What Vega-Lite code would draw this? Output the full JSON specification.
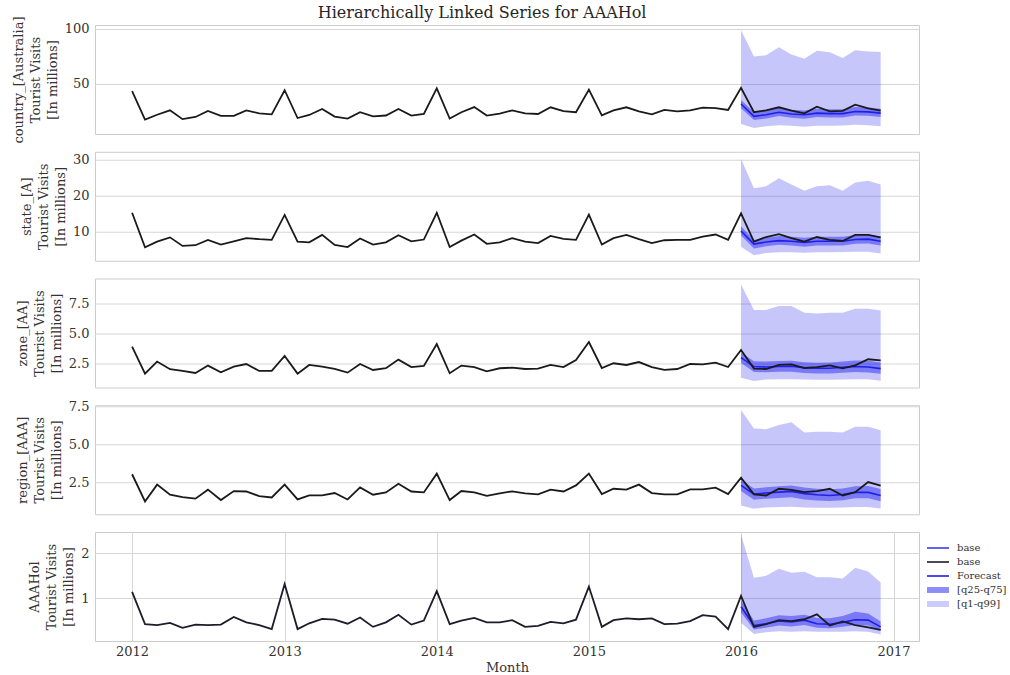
{
  "$schema": "https://vega.github.io/schema/vega-lite/v6.json",
  "padding": {"top": 4, "left": 11, "right": 0, "bottom": 0},
  "bounds": "flush",
  "title": {"text": "Hierarchically Linked Series for AAAHol", "fontSize": 16, "font": "DejaVu Serif", "fontWeight": "normal", "color": "#262626", "anchor": "middle", "offset": -5, "dx": -33},
  "datasets": {
    "actual": [
      {"month": "2012-01-01", "country": 43.4, "state": 15.2, "zone": 3.93, "region": 3.05, "AAAHol": 1.14},
      {"month": "2012-02-01", "country": 17.6, "state": 5.5, "zone": 1.71, "region": 1.27, "AAAHol": 0.42},
      {"month": "2012-03-01", "country": 22.0, "state": 7.1, "zone": 2.70, "region": 2.37, "AAAHol": 0.40},
      {"month": "2012-04-01", "country": 26.0, "state": 8.3, "zone": 2.07, "region": 1.71, "AAAHol": 0.45},
      {"month": "2012-05-01", "country": 18.0, "state": 5.9, "zone": 1.93, "region": 1.55, "AAAHol": 0.34},
      {"month": "2012-06-01", "country": 20.0, "state": 6.1, "zone": 1.76, "region": 1.45, "AAAHol": 0.41},
      {"month": "2012-07-01", "country": 25.5, "state": 7.6, "zone": 2.37, "region": 2.04, "AAAHol": 0.40},
      {"month": "2012-08-01", "country": 21.0, "state": 6.3, "zone": 1.82, "region": 1.36, "AAAHol": 0.41},
      {"month": "2012-09-01", "country": 21.0, "state": 7.2, "zone": 2.29, "region": 1.95, "AAAHol": 0.58},
      {"month": "2012-10-01", "country": 26.0, "state": 8.1, "zone": 2.50, "region": 1.92, "AAAHol": 0.46},
      {"month": "2012-11-01", "country": 23.3, "state": 7.8, "zone": 1.93, "region": 1.62, "AAAHol": 0.40},
      {"month": "2012-12-01", "country": 22.4, "state": 7.6, "zone": 1.93, "region": 1.53, "AAAHol": 0.31},
      {"month": "2013-01-01", "country": 44.3, "state": 14.6, "zone": 3.16, "region": 2.37, "AAAHol": 1.32},
      {"month": "2013-02-01", "country": 19.0, "state": 7.1, "zone": 1.71, "region": 1.40, "AAAHol": 0.31},
      {"month": "2013-03-01", "country": 21.8, "state": 6.9, "zone": 2.42, "region": 1.66, "AAAHol": 0.44},
      {"month": "2013-04-01", "country": 27.3, "state": 9.0, "zone": 2.29, "region": 1.66, "AAAHol": 0.54},
      {"month": "2013-05-01", "country": 20.3, "state": 6.2, "zone": 2.09, "region": 1.82, "AAAHol": 0.52},
      {"month": "2013-06-01", "country": 18.5, "state": 5.6, "zone": 1.79, "region": 1.40, "AAAHol": 0.43},
      {"month": "2013-07-01", "country": 24.3, "state": 8.0, "zone": 2.50, "region": 2.19, "AAAHol": 0.57},
      {"month": "2013-08-01", "country": 20.6, "state": 6.3, "zone": 2.01, "region": 1.71, "AAAHol": 0.36},
      {"month": "2013-09-01", "country": 21.3, "state": 6.9, "zone": 2.15, "region": 1.86, "AAAHol": 0.46},
      {"month": "2013-10-01", "country": 27.3, "state": 8.9, "zone": 2.86, "region": 2.43, "AAAHol": 0.63},
      {"month": "2013-11-01", "country": 21.3, "state": 7.2, "zone": 2.25, "region": 1.92, "AAAHol": 0.41},
      {"month": "2013-12-01", "country": 22.7, "state": 7.7, "zone": 2.34, "region": 1.86, "AAAHol": 0.50},
      {"month": "2014-01-01", "country": 46.0, "state": 15.2, "zone": 4.14, "region": 3.09, "AAAHol": 1.16},
      {"month": "2014-02-01", "country": 18.5, "state": 5.6, "zone": 1.74, "region": 1.36, "AAAHol": 0.42},
      {"month": "2014-03-01", "country": 24.3, "state": 7.4, "zone": 2.37, "region": 1.95, "AAAHol": 0.50},
      {"month": "2014-04-01", "country": 29.0, "state": 9.1, "zone": 2.25, "region": 1.86, "AAAHol": 0.56},
      {"month": "2014-05-01", "country": 21.3, "state": 6.5, "zone": 1.90, "region": 1.64, "AAAHol": 0.46},
      {"month": "2014-06-01", "country": 23.0, "state": 6.9, "zone": 2.15, "region": 1.80, "AAAHol": 0.46},
      {"month": "2014-07-01", "country": 26.0, "state": 8.1, "zone": 2.20, "region": 1.93, "AAAHol": 0.51},
      {"month": "2014-08-01", "country": 23.3, "state": 7.1, "zone": 2.09, "region": 1.80, "AAAHol": 0.36},
      {"month": "2014-09-01", "country": 22.7, "state": 6.7, "zone": 2.12, "region": 1.73, "AAAHol": 0.38},
      {"month": "2014-10-01", "country": 28.8, "state": 8.7, "zone": 2.42, "region": 2.04, "AAAHol": 0.47},
      {"month": "2014-11-01", "country": 25.2, "state": 7.9, "zone": 2.25, "region": 1.92, "AAAHol": 0.44},
      {"month": "2014-12-01", "country": 24.3, "state": 7.6, "zone": 2.83, "region": 2.32, "AAAHol": 0.52},
      {"month": "2015-01-01", "country": 44.8, "state": 14.7, "zone": 4.30, "region": 3.09, "AAAHol": 1.26},
      {"month": "2015-02-01", "country": 21.5, "state": 6.3, "zone": 2.17, "region": 1.75, "AAAHol": 0.36},
      {"month": "2015-03-01", "country": 26.0, "state": 8.1, "zone": 2.56, "region": 2.10, "AAAHol": 0.51},
      {"month": "2015-04-01", "country": 28.8, "state": 9.0, "zone": 2.42, "region": 2.04, "AAAHol": 0.55},
      {"month": "2015-05-01", "country": 25.0, "state": 7.8, "zone": 2.66, "region": 2.37, "AAAHol": 0.53},
      {"month": "2015-06-01", "country": 22.4, "state": 6.7, "zone": 2.25, "region": 1.82, "AAAHol": 0.55},
      {"month": "2015-07-01", "country": 26.4, "state": 7.5, "zone": 2.01, "region": 1.73, "AAAHol": 0.42},
      {"month": "2015-08-01", "country": 25.0, "state": 7.6, "zone": 2.09, "region": 1.73, "AAAHol": 0.43},
      {"month": "2015-09-01", "country": 26.0, "state": 7.6, "zone": 2.50, "region": 2.06, "AAAHol": 0.49},
      {"month": "2015-10-01", "country": 28.5, "state": 8.5, "zone": 2.47, "region": 2.06, "AAAHol": 0.62},
      {"month": "2015-11-01", "country": 28.0, "state": 9.1, "zone": 2.61, "region": 2.17, "AAAHol": 0.59},
      {"month": "2015-12-01", "country": 26.4, "state": 7.6, "zone": 2.25, "region": 1.75, "AAAHol": 0.31},
      {"month": "2016-01-01", "country": 46.4, "state": 15.0, "zone": 3.65, "region": 2.83, "AAAHol": 1.05},
      {"month": "2016-02-01", "country": 24.3, "state": 7.1, "zone": 2.12, "region": 1.73, "AAAHol": 0.36},
      {"month": "2016-03-01", "country": 26.0, "state": 8.4, "zone": 2.09, "region": 1.66, "AAAHol": 0.42},
      {"month": "2016-04-01", "country": 28.8, "state": 9.2, "zone": 2.42, "region": 2.10, "AAAHol": 0.51},
      {"month": "2016-05-01", "country": 25.7, "state": 8.1, "zone": 2.47, "region": 2.02, "AAAHol": 0.49},
      {"month": "2016-06-01", "country": 23.3, "state": 7.1, "zone": 2.17, "region": 1.88, "AAAHol": 0.53},
      {"month": "2016-07-01", "country": 29.3, "state": 8.4, "zone": 2.25, "region": 1.95, "AAAHol": 0.64},
      {"month": "2016-08-01", "country": 25.0, "state": 7.6, "zone": 2.39, "region": 2.10, "AAAHol": 0.39},
      {"month": "2016-09-01", "country": 25.5, "state": 7.3, "zone": 2.15, "region": 1.66, "AAAHol": 0.48},
      {"month": "2016-10-01", "country": 31.2, "state": 9.0, "zone": 2.39, "region": 1.88, "AAAHol": 0.40},
      {"month": "2016-11-01", "country": 27.9, "state": 9.0, "zone": 2.89, "region": 2.54, "AAAHol": 0.35},
      {"month": "2016-12-01", "country": 25.7, "state": 8.3, "zone": 2.80, "region": 2.30, "AAAHol": 0.29}
    ],
    "fc": [
      {"level": "country", "month": "2016-01-01", "fc": 31.8, "q1": 13.6, "q25": 28.0, "q75": 35.5, "q99": 98.8},
      {"level": "country", "month": "2016-02-01", "fc": 20.6, "q1": 10.0, "q25": 17.2, "q75": 24.5, "q99": 75.0},
      {"level": "country", "month": "2016-03-01", "fc": 22.0, "q1": 11.5, "q25": 18.5, "q75": 25.8, "q99": 76.0},
      {"level": "country", "month": "2016-04-01", "fc": 24.3, "q1": 12.5, "q25": 20.8, "q75": 28.3, "q99": 83.3},
      {"level": "country", "month": "2016-05-01", "fc": 22.7, "q1": 12.0, "q25": 19.2, "q75": 26.6, "q99": 76.7},
      {"level": "country", "month": "2016-06-01", "fc": 22.0, "q1": 11.0, "q25": 18.4, "q75": 25.8, "q99": 73.0},
      {"level": "country", "month": "2016-07-01", "fc": 23.5, "q1": 12.0, "q25": 19.9, "q75": 27.4, "q99": 80.3},
      {"level": "country", "month": "2016-08-01", "fc": 23.0, "q1": 12.0, "q25": 19.5, "q75": 26.9, "q99": 78.8},
      {"level": "country", "month": "2016-09-01", "fc": 23.0, "q1": 12.2, "q25": 19.5, "q75": 27.0, "q99": 73.6},
      {"level": "country", "month": "2016-10-01", "fc": 25.0, "q1": 12.8, "q25": 21.4, "q75": 29.0, "q99": 80.6},
      {"level": "country", "month": "2016-11-01", "fc": 24.6, "q1": 12.5, "q25": 21.0, "q75": 28.6, "q99": 79.4},
      {"level": "country", "month": "2016-12-01", "fc": 23.5, "q1": 11.5, "q25": 19.9, "q75": 27.5, "q99": 79.0},
      {"level": "state", "month": "2016-01-01", "fc": 10.1, "q1": 5.7, "q25": 8.9, "q75": 11.4, "q99": 30.3},
      {"level": "state", "month": "2016-02-01", "fc": 6.4, "q1": 3.3, "q25": 5.2, "q75": 7.6, "q99": 22.1},
      {"level": "state", "month": "2016-03-01", "fc": 7.0, "q1": 3.9, "q25": 5.8, "q75": 8.2, "q99": 22.6},
      {"level": "state", "month": "2016-04-01", "fc": 7.4, "q1": 4.1, "q25": 6.2, "q75": 8.7, "q99": 24.9},
      {"level": "state", "month": "2016-05-01", "fc": 7.2, "q1": 4.1, "q25": 6.0, "q75": 8.5, "q99": 23.1},
      {"level": "state", "month": "2016-06-01", "fc": 6.9, "q1": 4.0, "q25": 5.7, "q75": 8.2, "q99": 21.4},
      {"level": "state", "month": "2016-07-01", "fc": 7.2, "q1": 4.1, "q25": 6.0, "q75": 8.5, "q99": 22.6},
      {"level": "state", "month": "2016-08-01", "fc": 7.2, "q1": 4.1, "q25": 6.0, "q75": 8.5, "q99": 22.9},
      {"level": "state", "month": "2016-09-01", "fc": 7.2, "q1": 4.2, "q25": 6.0, "q75": 8.5, "q99": 21.4},
      {"level": "state", "month": "2016-10-01", "fc": 7.7, "q1": 4.3, "q25": 6.5, "q75": 9.0, "q99": 23.7},
      {"level": "state", "month": "2016-11-01", "fc": 7.8, "q1": 4.3, "q25": 6.6, "q75": 9.1, "q99": 24.2},
      {"level": "state", "month": "2016-12-01", "fc": 7.2, "q1": 3.8, "q25": 6.0, "q75": 8.5, "q99": 23.1},
      {"level": "zone", "month": "2016-01-01", "fc": 3.02, "q1": 1.38, "q25": 2.60, "q75": 3.45, "q99": 9.03},
      {"level": "zone", "month": "2016-02-01", "fc": 2.29, "q1": 1.11, "q25": 1.85, "q75": 2.72, "q99": 6.93},
      {"level": "zone", "month": "2016-03-01", "fc": 2.25, "q1": 1.22, "q25": 1.82, "q75": 2.70, "q99": 6.93},
      {"level": "zone", "month": "2016-04-01", "fc": 2.29, "q1": 1.25, "q25": 1.86, "q75": 2.75, "q99": 7.26},
      {"level": "zone", "month": "2016-05-01", "fc": 2.31, "q1": 1.25, "q25": 1.87, "q75": 2.76, "q99": 7.26},
      {"level": "zone", "month": "2016-06-01", "fc": 2.20, "q1": 1.22, "q25": 1.76, "q75": 2.65, "q99": 6.71},
      {"level": "zone", "month": "2016-07-01", "fc": 2.15, "q1": 1.20, "q25": 1.72, "q75": 2.60, "q99": 6.65},
      {"level": "zone", "month": "2016-08-01", "fc": 2.15, "q1": 1.20, "q25": 1.72, "q75": 2.62, "q99": 6.71},
      {"level": "zone", "month": "2016-09-01", "fc": 2.23, "q1": 1.22, "q25": 1.78, "q75": 2.70, "q99": 6.71},
      {"level": "zone", "month": "2016-10-01", "fc": 2.29, "q1": 1.25, "q25": 1.84, "q75": 2.78, "q99": 7.04},
      {"level": "zone", "month": "2016-11-01", "fc": 2.25, "q1": 1.24, "q25": 1.80, "q75": 2.76, "q99": 7.04},
      {"level": "zone", "month": "2016-12-01", "fc": 2.12, "q1": 1.12, "q25": 1.70, "q75": 2.62, "q99": 6.90},
      {"level": "region", "month": "2016-01-01", "fc": 2.32, "q1": 1.00, "q25": 1.95, "q75": 2.70, "q99": 7.26},
      {"level": "region", "month": "2016-02-01", "fc": 1.75, "q1": 0.79, "q25": 1.38, "q75": 2.12, "q99": 6.05},
      {"level": "region", "month": "2016-03-01", "fc": 1.82, "q1": 0.88, "q25": 1.45, "q75": 2.20, "q99": 6.00},
      {"level": "region", "month": "2016-04-01", "fc": 1.88, "q1": 0.90, "q25": 1.50, "q75": 2.27, "q99": 6.27},
      {"level": "region", "month": "2016-05-01", "fc": 1.93, "q1": 0.92, "q25": 1.55, "q75": 2.32, "q99": 6.45},
      {"level": "region", "month": "2016-06-01", "fc": 1.78, "q1": 0.88, "q25": 1.40, "q75": 2.18, "q99": 5.79},
      {"level": "region", "month": "2016-07-01", "fc": 1.71, "q1": 0.86, "q25": 1.33, "q75": 2.10, "q99": 5.83},
      {"level": "region", "month": "2016-08-01", "fc": 1.66, "q1": 0.86, "q25": 1.30, "q75": 2.06, "q99": 5.83},
      {"level": "region", "month": "2016-09-01", "fc": 1.72, "q1": 0.88, "q25": 1.35, "q75": 2.12, "q99": 5.79},
      {"level": "region", "month": "2016-10-01", "fc": 1.86, "q1": 0.90, "q25": 1.47, "q75": 2.27, "q99": 6.16},
      {"level": "region", "month": "2016-11-01", "fc": 1.86, "q1": 0.90, "q25": 1.47, "q75": 2.28, "q99": 6.16},
      {"level": "region", "month": "2016-12-01", "fc": 1.66, "q1": 0.80, "q25": 1.28, "q75": 2.08, "q99": 5.94},
      {"level": "AAAHol", "month": "2016-01-01", "fc": 0.81, "q1": 0.45, "q25": 0.68, "q75": 0.95, "q99": 2.42},
      {"level": "AAAHol", "month": "2016-02-01", "fc": 0.39, "q1": 0.20, "q25": 0.30, "q75": 0.50, "q99": 1.46},
      {"level": "AAAHol", "month": "2016-03-01", "fc": 0.43, "q1": 0.24, "q25": 0.34, "q75": 0.55, "q99": 1.50},
      {"level": "AAAHol", "month": "2016-04-01", "fc": 0.49, "q1": 0.26, "q25": 0.39, "q75": 0.62, "q99": 1.66},
      {"level": "AAAHol", "month": "2016-05-01", "fc": 0.47, "q1": 0.25, "q25": 0.37, "q75": 0.60, "q99": 1.57},
      {"level": "AAAHol", "month": "2016-06-01", "fc": 0.51, "q1": 0.26, "q25": 0.40, "q75": 0.63, "q99": 1.59},
      {"level": "AAAHol", "month": "2016-07-01", "fc": 0.43, "q1": 0.25, "q25": 0.34, "q75": 0.56, "q99": 1.47},
      {"level": "AAAHol", "month": "2016-08-01", "fc": 0.42, "q1": 0.25, "q25": 0.33, "q75": 0.55, "q99": 1.47},
      {"level": "AAAHol", "month": "2016-09-01", "fc": 0.46, "q1": 0.25, "q25": 0.36, "q75": 0.60, "q99": 1.44},
      {"level": "AAAHol", "month": "2016-10-01", "fc": 0.52, "q1": 0.26, "q25": 0.40, "q75": 0.70, "q99": 1.68},
      {"level": "AAAHol", "month": "2016-11-01", "fc": 0.51, "q1": 0.25, "q25": 0.39, "q75": 0.66, "q99": 1.60},
      {"level": "AAAHol", "month": "2016-12-01", "fc": 0.36, "q1": 0.19, "q25": 0.28, "q75": 0.48, "q99": 1.35}
    ]
  },
  "spacing": 17.75,
  "resolve": {"scale": {"color": "independent"}, "legend": {"color": "independent"}},
  "vconcat": [
    {
      "width": 824, "height": 109,
      "encoding": {"x": {"field": "month", "type": "temporal", "scale": {"type": "utc", "domain": [{"year": 2011, "month": 10, "date": 4, "utc": true}, {"year": 2017, "month": 3, "date": 3, "utc": true}]}, "axis": null}},
      "layer": [
        {"data": {"name": "fc"}, "transform": [{"filter": "datum.level == 'country'"}], "mark": {"type": "area", "color": "#1010f0", "fillOpacity": 0.24},
         "encoding": {"y": {"field": "q1", "type": "quantitative", "scale": {"domain": [4.5, 103.6], "nice": false, "zero": false}, "axis": {"values": [50, 100], "title": ["country_[Australia]", "Tourist Visits", "[In millions]"]}}, "y2": {"field": "q99"}}},
        {"data": {"name": "fc"}, "transform": [{"filter": "datum.level == 'country'"}], "mark": {"type": "area", "color": "#1010f0", "fillOpacity": 0.42},
         "encoding": {"y": {"field": "q25", "type": "quantitative", "scale": {"domain": [4.5, 103.6], "nice": false, "zero": false}, "axis": {"values": [50, 100], "title": ["country_[Australia]", "Tourist Visits", "[In millions]"]}}, "y2": {"field": "q75"}}},
        {"data": {"name": "fc"}, "transform": [{"filter": "datum.level == 'country'"}], "mark": {"type": "line", "color": "#1f1fe6", "strokeWidth": 1.6},
         "encoding": {"y": {"field": "fc", "type": "quantitative", "scale": {"domain": [4.5, 103.6], "nice": false, "zero": false}, "axis": {"values": [50, 100], "title": ["country_[Australia]", "Tourist Visits", "[In millions]"]}}}},
        {"data": {"name": "actual"}, "mark": {"type": "line", "color": "#1a1a1a", "strokeWidth": 1.8},
         "encoding": {"y": {"field": "country", "type": "quantitative", "scale": {"domain": [4.5, 103.6], "nice": false, "zero": false}, "axis": {"values": [50, 100], "title": ["country_[Australia]", "Tourist Visits", "[In millions]"]}}}}
      ]
    },
    {
      "width": 824, "height": 109,
      "encoding": {"x": {"field": "month", "type": "temporal", "scale": {"type": "utc", "domain": [{"year": 2011, "month": 10, "date": 4, "utc": true}, {"year": 2017, "month": 3, "date": 3, "utc": true}]}, "axis": null}},
      "layer": [
        {"data": {"name": "fc"}, "transform": [{"filter": "datum.level == 'state'"}], "mark": {"type": "area", "color": "#1010f0", "fillOpacity": 0.24},
         "encoding": {"y": {"field": "q1", "type": "quantitative", "scale": {"domain": [1.75, 32.3], "nice": false, "zero": false}, "axis": {"values": [10, 20, 30], "title": ["state_[A]", "Tourist Visits", "[In millions]"]}}, "y2": {"field": "q99"}}},
        {"data": {"name": "fc"}, "transform": [{"filter": "datum.level == 'state'"}], "mark": {"type": "area", "color": "#1010f0", "fillOpacity": 0.42},
         "encoding": {"y": {"field": "q25", "type": "quantitative", "scale": {"domain": [1.75, 32.3], "nice": false, "zero": false}, "axis": {"values": [10, 20, 30], "title": ["state_[A]", "Tourist Visits", "[In millions]"]}}, "y2": {"field": "q75"}}},
        {"data": {"name": "fc"}, "transform": [{"filter": "datum.level == 'state'"}], "mark": {"type": "line", "color": "#1f1fe6", "strokeWidth": 1.6},
         "encoding": {"y": {"field": "fc", "type": "quantitative", "scale": {"domain": [1.75, 32.3], "nice": false, "zero": false}, "axis": {"values": [10, 20, 30], "title": ["state_[A]", "Tourist Visits", "[In millions]"]}}}},
        {"data": {"name": "actual"}, "mark": {"type": "line", "color": "#1a1a1a", "strokeWidth": 1.8},
         "encoding": {"y": {"field": "state", "type": "quantitative", "scale": {"domain": [1.75, 32.3], "nice": false, "zero": false}, "axis": {"values": [10, 20, 30], "title": ["state_[A]", "Tourist Visits", "[In millions]"]}}}}
      ]
    },
    {
      "width": 824, "height": 109,
      "encoding": {"x": {"field": "month", "type": "temporal", "scale": {"type": "utc", "domain": [{"year": 2011, "month": 10, "date": 4, "utc": true}, {"year": 2017, "month": 3, "date": 3, "utc": true}]}, "axis": null}},
      "layer": [
        {"data": {"name": "fc"}, "transform": [{"filter": "datum.level == 'zone'"}], "mark": {"type": "area", "color": "#1010f0", "fillOpacity": 0.24},
         "encoding": {"y": {"field": "q1", "type": "quantitative", "scale": {"domain": [0.57, 9.52], "nice": false, "zero": false}, "axis": {"values": [2.5, 5, 7.5], "format": ".1f", "title": ["zone_[AA]", "Tourist Visits", "[In millions]"]}}, "y2": {"field": "q99"}}},
        {"data": {"name": "fc"}, "transform": [{"filter": "datum.level == 'zone'"}], "mark": {"type": "area", "color": "#1010f0", "fillOpacity": 0.42},
         "encoding": {"y": {"field": "q25", "type": "quantitative", "scale": {"domain": [0.57, 9.52], "nice": false, "zero": false}, "axis": {"values": [2.5, 5, 7.5], "format": ".1f", "title": ["zone_[AA]", "Tourist Visits", "[In millions]"]}}, "y2": {"field": "q75"}}},
        {"data": {"name": "fc"}, "transform": [{"filter": "datum.level == 'zone'"}], "mark": {"type": "line", "color": "#1f1fe6", "strokeWidth": 1.6},
         "encoding": {"y": {"field": "fc", "type": "quantitative", "scale": {"domain": [0.57, 9.52], "nice": false, "zero": false}, "axis": {"values": [2.5, 5, 7.5], "format": ".1f", "title": ["zone_[AA]", "Tourist Visits", "[In millions]"]}}}},
        {"data": {"name": "actual"}, "mark": {"type": "line", "color": "#1a1a1a", "strokeWidth": 1.8},
         "encoding": {"y": {"field": "zone", "type": "quantitative", "scale": {"domain": [0.57, 9.52], "nice": false, "zero": false}, "axis": {"values": [2.5, 5, 7.5], "format": ".1f", "title": ["zone_[AA]", "Tourist Visits", "[In millions]"]}}}}
      ]
    },
    {
      "width": 824, "height": 109,
      "encoding": {"x": {"field": "month", "type": "temporal", "scale": {"type": "utc", "domain": [{"year": 2011, "month": 10, "date": 4, "utc": true}, {"year": 2017, "month": 3, "date": 3, "utc": true}]}, "axis": null}},
      "layer": [
        {"data": {"name": "fc"}, "transform": [{"filter": "datum.level == 'region'"}], "mark": {"type": "area", "color": "#1010f0", "fillOpacity": 0.24},
         "encoding": {"y": {"field": "q1", "type": "quantitative", "scale": {"domain": [0.43, 7.57], "nice": false, "zero": false}, "axis": {"values": [2.5, 5, 7.5], "format": ".1f", "title": ["region_[AAA]", "Tourist Visits", "[In millions]"]}}, "y2": {"field": "q99"}}},
        {"data": {"name": "fc"}, "transform": [{"filter": "datum.level == 'region'"}], "mark": {"type": "area", "color": "#1010f0", "fillOpacity": 0.42},
         "encoding": {"y": {"field": "q25", "type": "quantitative", "scale": {"domain": [0.43, 7.57], "nice": false, "zero": false}, "axis": {"values": [2.5, 5, 7.5], "format": ".1f", "title": ["region_[AAA]", "Tourist Visits", "[In millions]"]}}, "y2": {"field": "q75"}}},
        {"data": {"name": "fc"}, "transform": [{"filter": "datum.level == 'region'"}], "mark": {"type": "line", "color": "#1f1fe6", "strokeWidth": 1.6},
         "encoding": {"y": {"field": "fc", "type": "quantitative", "scale": {"domain": [0.43, 7.57], "nice": false, "zero": false}, "axis": {"values": [2.5, 5, 7.5], "format": ".1f", "title": ["region_[AAA]", "Tourist Visits", "[In millions]"]}}}},
        {"data": {"name": "actual"}, "mark": {"type": "line", "color": "#1a1a1a", "strokeWidth": 1.8},
         "encoding": {"y": {"field": "region", "type": "quantitative", "scale": {"domain": [0.43, 7.57], "nice": false, "zero": false}, "axis": {"values": [2.5, 5, 7.5], "format": ".1f", "title": ["region_[AAA]", "Tourist Visits", "[In millions]"]}}}}
      ]
    },
    {
      "width": 824, "height": 109,
      "encoding": {"x": {"field": "month", "type": "temporal", "scale": {"type": "utc", "domain": [{"year": 2011, "month": 10, "date": 4, "utc": true}, {"year": 2017, "month": 3, "date": 3, "utc": true}]},
        "axis": {"values": [{"year": 2012, "month": 1, "date": 1, "utc": true}, {"year": 2013, "month": 1, "date": 1, "utc": true}, {"year": 2014, "month": 1, "date": 1, "utc": true}, {"year": 2015, "month": 1, "date": 1, "utc": true}, {"year": 2016, "month": 1, "date": 1, "utc": true}, {"year": 2017, "month": 1, "date": 1, "utc": true}], "format": "%Y", "title": "Month", "grid": true, "labelPadding": 4, "titlePadding": 3}}},
      "layer": [
        {"data": {"name": "fc"}, "transform": [{"filter": "datum.level == 'AAAHol'"}], "mark": {"type": "area", "fillOpacity": 0.24},
         "encoding": {"y": {"field": "q1", "type": "quantitative", "scale": {"domain": [0.044, 2.48], "nice": false, "zero": false}, "axis": {"values": [1, 2], "title": ["AAAHol", "Tourist Visits", "[In millions]"]}}, "y2": {"field": "q99"},
           "color": {"datum": "[q1-q99]", "scale": {"domain": ["base1", "base2", "Forecast", "[q25-q75]", "[q1-q99]"], "range": ["#3b3bf0", "#1c1c2a", "#1f1fe6", "#1010f0", "#1010f0"]},
             "legend": {"title": null, "orient": "right", "offset": 3, "padding": 11, "labelFont": "DejaVu Serif", "labelFontSize": 10, "labelColor": "#333333", "symbolSize": 484, "labelOffset": 14, "rowPadding": 4,
               "labelExpr": "datum.label == 'base1' || datum.label == 'base2' ? 'base' : datum.label",
               "encode": {"symbols": {"update": {
                 "shape": {"signal": "datum.value == '[q25-q75]' || datum.value == '[q1-q99]' ? 'M-1,-0.27H1V0.27H-1Z' : 'M-1,0H1'"},
                 "fillOpacity": {"signal": "datum.value == '[q25-q75]' ? 0.48 : datum.value == '[q1-q99]' ? 0.22 : 1"},
                 "strokeWidth": {"signal": "datum.value == '[q25-q75]' || datum.value == '[q1-q99]' ? 0 : 1.6"}
               }}}}}}},
        {"data": {"name": "fc"}, "transform": [{"filter": "datum.level == 'AAAHol'"}], "mark": {"type": "area", "fillOpacity": 0.42},
         "encoding": {"y": {"field": "q25", "type": "quantitative", "scale": {"domain": [0.044, 2.48], "nice": false, "zero": false}, "axis": {"values": [1, 2], "title": ["AAAHol", "Tourist Visits", "[In millions]"]}}, "y2": {"field": "q75"}, "color": {"datum": "[q25-q75]"}}},
        {"data": {"name": "fc"}, "transform": [{"filter": "datum.level == 'AAAHol'"}], "mark": {"type": "line", "strokeWidth": 1.6},
         "encoding": {"y": {"field": "fc", "type": "quantitative", "scale": {"domain": [0.044, 2.48], "nice": false, "zero": false}, "axis": {"values": [1, 2], "title": ["AAAHol", "Tourist Visits", "[In millions]"]}}, "color": {"datum": "Forecast"}}},
        {"data": {"name": "actual"}, "mark": {"type": "line", "strokeWidth": 1.8},
         "encoding": {"y": {"field": "AAAHol", "type": "quantitative", "scale": {"domain": [0.044, 2.48], "nice": false, "zero": false}, "axis": {"values": [1, 2], "title": ["AAAHol", "Tourist Visits", "[In millions]"]}}, "color": {"datum": "base2"}}}
      ]
    }
  ],
  "config": {
    "font": "DejaVu Serif",
    "background": "white",
    "view": {"stroke": "#cccccc", "strokeWidth": 1},
    "axis": {"labelFont": "DejaVu Serif", "titleFont": "DejaVu Serif", "labelFontSize": 13, "titleFontSize": 13, "titleFontWeight": "normal", "labelColor": "#333333", "titleColor": "#333333", "ticks": false, "domain": false, "gridColor": "#d6d6d6", "gridWidth": 1, "titleLineHeight": 17},
    "axisY": {"labelPadding": 6, "titlePadding": 5},
    "axisX": {"grid": true}
  }
}
